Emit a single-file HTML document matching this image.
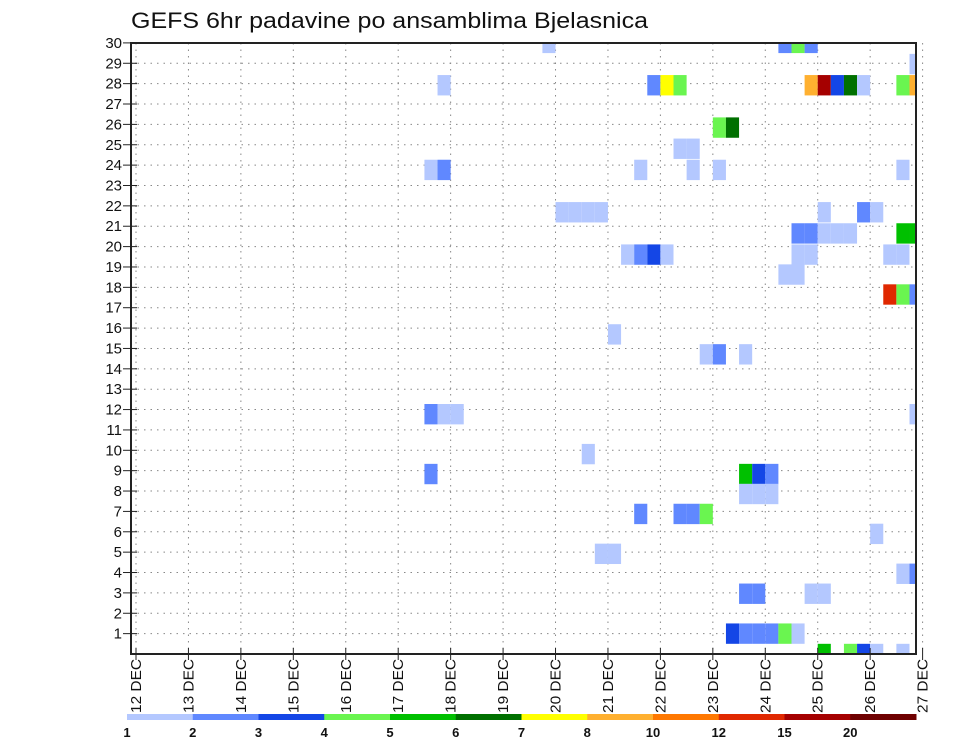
<!DOCTYPE html>
<html><head><meta charset="utf-8">
<style>
html,body{margin:0;padding:0;background:#fff;}
svg{display:block;font-family:"Liberation Sans",sans-serif;}
</style></head>
<body>
<svg id="chart" width="960" height="742" viewBox="0 0 960 742" xmlns="http://www.w3.org/2000/svg">
<text x="131" y="28" font-size="22" textLength="517" lengthAdjust="spacingAndGlyphs" fill="#111">GEFS 6hr padavine po ansamblima Bjelasnica</text>
<g id="grid"></g>
<g id="cells"></g>
<rect x="131" y="43" width="785" height="611" fill="none" stroke="#222" stroke-width="2"/>
<g id="axes"></g>
<g id="legend"></g>
</svg>
<script>
// ensemble member (row), 6h step end index (from 12 DEC 00Z), precipitation value (mm)
const members = [30,30,30,30, 29,
 28,28,28,28,28,28,28,28,28,28,28,
 26,26, 25,25,
 24,24,24,24,24,24,
 22,22,22,22,22,22,22,
 21,21,21,21,21,21,21,
 20,20,20,20,20,20,20,20,
 19,19, 18,18,18, 16,
 15,15,15, 12,12,12,12, 10,
 9,9,9,9, 8,8,8, 7,7,7,7, 6, 5,5, 4,4, 3,3,3,3,
 1,1,1,1,1,1,1, 0,0,0,0,0];
const steps = [32,50,51,52, 60,
 24,40,41,42,52,53,54,55,56,59,60,
 45,46, 42,43,
 23,24,39,43,45,59,
 33,34,35,36,53,56,57,
 51,52,53,54,55,59,60,
 38,39,40,41,51,52,58,59,
 50,51, 58,59,60, 37,
 44,45,47, 23,24,25,60, 35,
 23,47,48,49, 47,48,49, 39,42,43,44, 57, 36,37, 59,60, 47,48,52,53,
 46,47,48,49,50,51, 0, 53,55,56,57,59];
const values = [1.5,2.5,4.5,2.5, 1.5,
 1.5,2.5,7.5,4.5,9,17,3.5,6.5,1.5,4.5,9,
 4.5,6.5, 1.5,1.5,
 1.5,2.5,1.5,1.5,1.5,1.5,
 1.5,1.5,1.5,1.5,1.5,2.5,1.5,
 2.5,2.5,1.5,1.5,1.5,5.5,5.5,
 1.5,2.5,3.5,1.5,1.5,1.5,1.5,1.5,
 1.5,1.5, 13,4.5,2.5, 1.5,
 1.5,2.5,1.5, 2.5,1.5,1.5,1.5, 1.5,
 2.5,5.5,3.5,2.5, 1.5,1.5,1.5, 2.5,2.5,2.5,4.5, 1.5, 1.5,1.5, 1.5,2.5, 2.5,2.5,1.5,1.5,
 3.5,2.5,2.5,2.5,4.5,1.5, 0, 5.5,4.5,3.5,1.5,1.5];
const levels = [1,2,3,4,5,6,7,8,10,12,15,20];
const levelColors = ["#b4c8ff","#6088ff","#1446e6","#6af550","#00c000","#007000","#ffff00","#ffb030","#ff7800","#e02800","#a50000","#6e0000"];
const dayLabels = ["12","13","14","15","16","17","18","19","20","21","22","23","24","25","26","27"];
const rowTicks = [1,2,3,4,5,6,7,8,9,10,11,12,13,14,15,16,17,18,19,20,21,22,23,24,25,26,27,28,29,30];

const NS="http://www.w3.org/2000/svg";
const X0=136, STEP=13.11, LEFT=131, RIGHT=916, TOP=43, BOTTOM=654, ROWH=20.37;
function xs(j){return X0+j*STEP;}
function ys(k){return BOTTOM-k*ROWH;}
function cellOff(k){return k>=20?(30-k)*0.8:8*Math.max(0,k-1)/19;}
function colorFor(v){let c=null;for(let i=0;i<levels.length;i++){if(v>=levels[i])c=levelColors[i];}return c;}
function mk(tag,attrs,parent){const e=document.createElementNS(NS,tag);for(const a in attrs)e.setAttribute(a,attrs[a]);parent.appendChild(e);return e;}

const grid=document.getElementById('grid');
rowTicks.forEach(k=>{
  const l=mk('line',{x1:LEFT,x2:RIGHT,y1:ys(k),y2:ys(k),stroke:"#888","stroke-width":1,"stroke-dasharray":"1.5 5"},grid);
  
  
});
dayLabels.forEach((d,i)=>{
  const x=xs(i*4);
  const l=mk('line',{x1:x,x2:x,y1:TOP,y2:BOTTOM,stroke:"#888","stroke-width":1,"stroke-dasharray":"1.5 5"},grid);
  
  
});

const cells=document.getElementById('cells');
for(let i=0;i<members.length;i++){
  const c=colorFor(values[i]); if(!c)continue;
  const k=members[i], e=steps[i];
  let x1=xs(e-1), x2=Math.min(xs(e),RIGHT);
  const cy=ys(k)+cellOff(k);
  let y1=Math.max(cy-ROWH/2,TOP), y2=Math.min(cy+ROWH/2,BOTTOM);
  const r=mk('rect',{x:x1,y:y1,width:x2-x1,height:y2-y1,fill:c},cells);
  
  
}

const axes=document.getElementById('axes');
rowTicks.forEach(k=>{
  const t=mk('line',{x1:LEFT-8,x2:LEFT+6,y1:ys(k),y2:ys(k),stroke:"#222","stroke-width":1},axes);
  
  
  const tx=mk('text',{x:LEFT-9,y:ys(k)+5,"font-size":15,"text-anchor":"end",fill:"#111"},axes);
  tx.textContent=k;
  
  
});
dayLabels.forEach((d,i)=>{
  const x=xs(i*4);
  const t=mk('line',{x1:x,x2:x,y1:BOTTOM-6,y2:BOTTOM+6,stroke:"#222","stroke-width":1},axes);
  
  
  const tx=mk('text',{x:0,y:0,"font-size":15,"text-anchor":"start",fill:"#111",transform:`translate(${x+5},713) rotate(-90)`,textLength:54,lengthAdjust:"spacingAndGlyphs"},axes);
  tx.textContent=d+" DEC";
  
  
});

const legend=document.getElementById('legend');
const LX=127, LW=(RIGHT-LX)/levels.length;
levelColors.forEach((c,i)=>{
  const r=mk('rect',{x:LX+i*LW,y:714,width:LW+0.5,height:6,fill:c},legend);
  
  
});
levels.forEach((v,i)=>{
  const tx=mk('text',{x:LX+i*LW,y:737,"font-size":13,"font-weight":"bold","text-anchor":"middle",fill:"#111"},legend);
  tx.textContent=v;
  
  
});
</script>
</body></html>
